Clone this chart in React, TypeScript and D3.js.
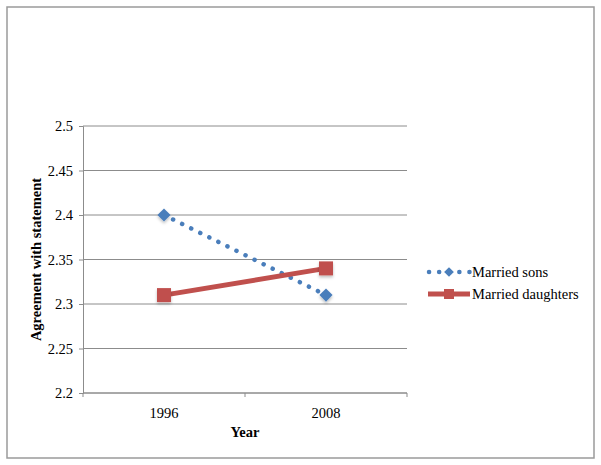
import React, { useRef, useEffect } from 'react';
import * as d3 from 'd3';

// chart data
const years = ['1996', '2008'];
const marriedSons = [2.40, 2.31];
const marriedDaughters = [2.31, 2.34];
const yTicks = [2.2, 2.25, 2.3, 2.35, 2.4, 2.45, 2.5];

const WIDTH = 601;
const HEIGHT = 465;

const App: React.FC = () => {
  const ref = useRef<SVGSVGElement>(null);

  useEffect(() => {
    if (!ref.current) return;
    const svg = d3.select(ref.current);
    svg.selectAll('*').remove();

    const font = '"Liberation Serif", "Times New Roman", serif';
    const fs = 14.5;
    const margin = { left: 83, right: 194, top: 126, bottom: 72 };
    const plotW = WIDTH - margin.left - margin.right;
    const plotH = HEIGHT - margin.top - margin.bottom;

    const defs = svg.append('defs');
    const f = defs.append('filter').attr('id', 'shadow').attr('x', '-50%').attr('y', '-50%').attr('width', '200%').attr('height', '200%');
    f.append('feDropShadow').attr('dx', 0).attr('dy', 2).attr('stdDeviation', 1.5)
      .attr('flood-color', '#000').attr('flood-opacity', 0.25);

    // outer frame
    svg.append('rect')
      .attr('x', 7).attr('y', 7).attr('width', 587).attr('height', 451)
      .attr('fill', '#fff').attr('stroke', '#9a9a9a').attr('stroke-width', 1.5);

    const x = d3.scaleBand().domain(years).range([0, plotW]);
    const y = d3.scaleLinear().domain([2.2, 2.5]).range([plotH, 0]);

    const g = svg.append('g').attr('transform', `translate(${margin.left},${margin.top})`);

    // gridlines
    g.selectAll('line.grid').data(yTicks).enter().append('line')
      .attr('x1', 0).attr('x2', plotW)
      .attr('y1', d => y(d)).attr('y2', d => y(d))
      .attr('stroke', '#8c8c8c').attr('stroke-width', 1);

    // y axis
    const yAxis = g.append('g').call(
      d3.axisLeft(y).tickValues(yTicks).tickSize(4).tickPadding(6)
        .tickFormat(d => String(+d))
    );
    yAxis.select('.domain').attr('stroke', '#8c8c8c');
    yAxis.selectAll('.tick line').attr('stroke', '#8c8c8c');
    yAxis.selectAll('text').attr('font-family', font).attr('font-size', fs).attr('fill', '#000');

    // x axis
    const xAxis = g.append('g').attr('transform', `translate(0,${plotH})`);
    xAxis.append('line').attr('x1', 0).attr('x2', plotW).attr('stroke', '#8c8c8c');
    const bounds = [0, ...years.map(d => (x(d) as number) + x.bandwidth())];
    xAxis.selectAll('line.tk').data(bounds).enter().append('line')
      .attr('x1', d => d).attr('x2', d => d).attr('y1', 0).attr('y2', 4)
      .attr('stroke', '#8c8c8c');
    xAxis.selectAll('text').data(years).enter().append('text')
      .attr('x', d => (x(d) as number) + x.bandwidth() / 2)
      .attr('y', 25)
      .attr('text-anchor', 'middle')
      .attr('font-family', font).attr('font-size', fs)
      .text(d => d);

    // axis titles
    svg.append('text')
      .attr('x', margin.left + plotW / 2).attr('y', 437)
      .attr('text-anchor', 'middle')
      .attr('font-family', font).attr('font-size', fs).attr('font-weight', 'bold')
      .text('Year');
    svg.append('text')
      .attr('transform', `translate(41,${margin.top + plotH / 2}) rotate(-90)`)
      .attr('text-anchor', 'middle')
      .attr('font-family', font).attr('font-size', fs).attr('font-weight', 'bold')
      .text('Agreement with statement');

    const cx = (d: string) => (x(d) as number) + x.bandwidth() / 2;
    const line = d3.line<number>().x((_, i) => cx(years[i])).y(d => y(d));

    const blue = '#4a7ebb';
    const red = '#c0504d';

    // married sons: dotted line + diamonds
    g.append('path').datum(marriedSons)
      .attr('d', line).attr('fill', 'none')
      .attr('stroke', blue).attr('stroke-width', 4.5)
      .attr('stroke-linecap', 'round').attr('stroke-dasharray', '0.1 10');
    const diamond = d3.symbol().type(d3.symbolDiamond2).size(110);
    g.selectAll('path.sons').data(marriedSons).enter().append('path')
      .attr('d', diamond)
      .attr('transform', (d, i) => `translate(${cx(years[i])},${y(d)})`)
      .attr('fill', blue).attr('filter', 'url(#shadow)');

    // married daughters: solid line + squares
    g.append('path').datum(marriedDaughters)
      .attr('d', line).attr('fill', 'none')
      .attr('stroke', red).attr('stroke-width', 5);
    g.selectAll('rect.dau').data(marriedDaughters).enter().append('rect')
      .attr('x', (d, i) => cx(years[i]) - 7).attr('y', d => y(d) - 7)
      .attr('width', 14).attr('height', 14)
      .attr('fill', red).attr('filter', 'url(#shadow)');

    // legend
    const lg = svg.append('g').attr('transform', 'translate(428,272)');
    lg.append('line').attr('x1', 1).attr('x2', 42).attr('y1', 0).attr('y2', 0)
      .attr('stroke', blue).attr('stroke-width', 4.5)
      .attr('stroke-linecap', 'round').attr('stroke-dasharray', '0.1 10');
    lg.append('path').attr('d', d3.symbol().type(d3.symbolDiamond2).size(60))
      .attr('transform', 'translate(21,0)').attr('fill', blue);
    lg.append('text').attr('x', 44).attr('y', 5)
      .attr('font-family', font).attr('font-size', fs).text('Married sons');

    lg.append('line').attr('x1', 0).attr('x2', 42).attr('y1', 22).attr('y2', 22)
      .attr('stroke', red).attr('stroke-width', 5);
    lg.append('rect').attr('x', 16).attr('y', 17).attr('width', 10).attr('height', 10).attr('fill', red);
    lg.append('text').attr('x', 44).attr('y', 27)
      .attr('font-family', font).attr('font-size', fs).text('Married daughters');
  }, []);

  return (
    <svg ref={ref} width={WIDTH} height={HEIGHT}
      style={{ position: 'absolute', left: 0, top: 0, display: 'block' }} />
  );
};

export default App;
